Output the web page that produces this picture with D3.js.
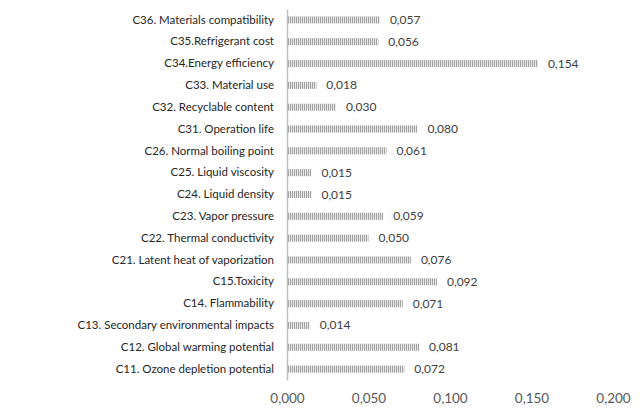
<!DOCTYPE html>
<html>
<head>
<meta charset="utf-8">
<script src="https://cdn.jsdelivr.net/npm/d3@7"></script>
<style>
  body { margin: 0; background: #fff; }
  text { font-family: Lato, "Open Sans", sans-serif; }
</style>
</head>
<body>
<svg id="chart" width="640" height="416"></svg>
<script>
// criteria, top to bottom
const categories = [
  'C36. Materials compatibility',
  'C35.Refrigerant cost',
  'C34.Energy efficiency',
  'C33. Material use',
  'C32. Recyclable content',
  'C31. Operation life',
  'C26. Normal boiling point',
  'C25. Liquid viscosity',
  'C24. Liquid density',
  'C23. Vapor pressure',
  'C22. Thermal conductivity',
  'C21. Latent heat of vaporization',
  'C15.Toxicity',
  'C14. Flammability',
  'C13. Secondary environmental impacts',
  'C12. Global warming potential',
  'C11. Ozone depletion potential'
]
const weights = [0.057, 0.056, 0.154, 0.018, 0.030, 0.080, 0.061, 0.015, 0.015,
  0.059, 0.050, 0.076, 0.092, 0.071, 0.014, 0.081, 0.072]
const xTicks = [0, 0.05, 0.1, 0.15, 0.2]

const fmt = v => d3.format('.3f')(v).replace('.', ',')

const svg = d3.select('#chart')
const x = d3.scaleLinear().domain([0, 0.2]).range([287, 613])
const y = d3.scaleBand().domain(categories).range([9, 380]).paddingInner(0)

// striped fill like the original
const pat = svg.append('defs').append('pattern')
  .attr('id', 'stripes')
  .attr('patternUnits', 'userSpaceOnUse')
  .attr('width', 2).attr('height', 10)
pat.append('rect').attr('width', 2).attr('height', 10).attr('fill', '#e6e6e6')
pat.append('rect').attr('width', 1).attr('height', 10).attr('fill', '#a3a3a3')

const barH = 7
const rows = d3.zip(categories, weights)

svg.append('g').selectAll('rect')
  .data(rows)
  .enter()
  .append('rect')
  .attr('x', x(0))
  .attr('y', d => y(d[0]) + y.bandwidth() / 2 - barH / 2)
  .attr('width', d => x(d[1]) - x(0))
  .attr('height', barH)
  .attr('fill', 'url(#stripes)')

// value labels
svg.append('g').selectAll('text')
  .data(rows)
  .enter()
  .append('text')
  .attr('x', d => x(d[1]) + 10)
  .attr('y', d => y(d[0]) + y.bandwidth() / 2 + 4)
  .attr('font-size', 12)
  .attr('fill', '#404040')
  .text(d => fmt(d[1]))

// category axis
const yAxis = svg.append('g')
  .attr('transform', `translate(${x(0)},0)`)
  .call(d3.axisLeft(y).tickSize(0).tickPadding(13))
yAxis.select('.domain').attr('stroke', '#bfbfbf').attr('stroke-width', 1.5)
yAxis.selectAll('text')
  .attr('font-size', 11.5)
  .attr('fill', '#262626')
  .style('font-family', 'Lato, "Open Sans", sans-serif')

// value axis, labels only
const xAxis = svg.append('g')
  .attr('transform', 'translate(0,390)')
  .call(d3.axisBottom(x).tickValues(xTicks).tickFormat(fmt).tickSize(0).tickPadding(3))
xAxis.select('.domain').remove()
xAxis.selectAll('text')
  .attr('font-size', 13.5)
  .attr('fill', '#595959')
  .style('font-family', 'Lato, "Open Sans", sans-serif')
</script>
</body>
</html>
